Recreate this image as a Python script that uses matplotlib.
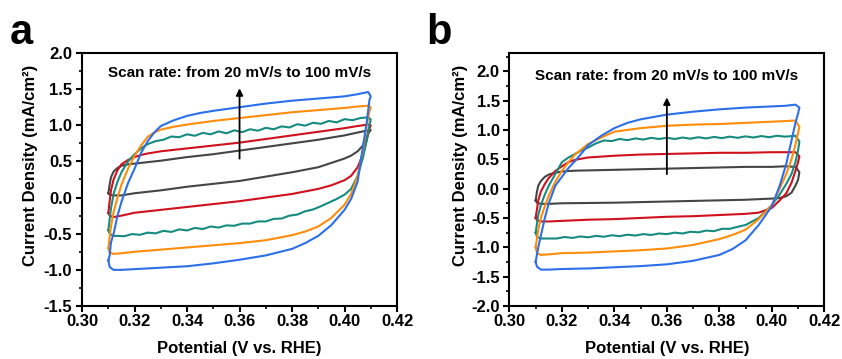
import numpy as np
import matplotlib
matplotlib.use('Agg')
import matplotlib.pyplot as plt
from matplotlib.ticker import MultipleLocator

plt.rcParams['font.family'] = ['Liberation Sans', 'DejaVu Sans']
plt.rcParams['font.weight'] = 'bold'

# potenciais (V vs. RHE): varredura de ida (ramo superior) e volta (ramo inferior)
up_v = [0.3100, 0.3105, 0.3110, 0.3120, 0.3135, 0.3150, 0.3175, 0.3200, 0.3225, 0.3250, 0.3275, 0.3300,
        0.3350, 0.3400, 0.3450, 0.3500, 0.3600, 0.3700, 0.3800, 0.3900, 0.4000, 0.4050, 0.4090]
a_dn_v = [0.4100, 0.4095, 0.4085, 0.4070, 0.4050, 0.4025, 0.4000, 0.3950, 0.3900, 0.3850, 0.3800,
          0.3700, 0.3600, 0.3500, 0.3400, 0.3300, 0.3200, 0.3150, 0.3120, 0.3105, 0.3100]
b_dn_v = [0.4105, 0.4100, 0.4090, 0.4075, 0.4055, 0.4030, 0.4000, 0.3950, 0.3900, 0.3850, 0.3800,
          0.3700, 0.3600, 0.3500, 0.3400, 0.3300, 0.3200, 0.3150, 0.3120, 0.3105, 0.3100]

# painel a - densidade de corrente (mA/cm2), 20 / 40 / 80 / 100 mV/s
a20_up = [0.06, 0.18, 0.28, 0.36, 0.41, 0.44, 0.46, 0.47, 0.48, 0.49, 0.50, 0.51, 0.535, 0.56, 0.58, 0.60, 0.65, 0.70, 0.75, 0.80, 0.86, 0.90, 0.93]
a20_dn = [0.93, 0.92, 0.85, 0.72, 0.64, 0.58, 0.54, 0.48, 0.42, 0.385, 0.35, 0.29, 0.23, 0.19, 0.15, 0.10, 0.06, 0.03, 0.03, 0.04, 0.06]
a40_up = [-0.21, -0.05, 0.10, 0.25, 0.38, 0.46, 0.52, 0.56, 0.59, 0.61, 0.625, 0.64, 0.66, 0.68, 0.70, 0.72, 0.76, 0.81, 0.86, 0.91, 0.96, 0.99, 1.01]
a40_dn = [1.00, 0.95, 0.80, 0.60, 0.42, 0.30, 0.24, 0.17, 0.12, 0.085, 0.05, 0.00, -0.05, -0.09, -0.13, -0.17, -0.21, -0.25, -0.27, -0.25, -0.21]
a80_up = [-0.70, -0.55, -0.40, -0.20, 0.00, 0.18, 0.40, 0.58, 0.72, 0.84, 0.90, 0.94, 0.98, 1.01, 1.035, 1.06, 1.10, 1.14, 1.18, 1.21, 1.24, 1.26, 1.27]
a80_dn = [1.25, 1.20, 1.00, 0.65, 0.30, 0.05, -0.10, -0.28, -0.40, -0.47, -0.52, -0.59, -0.63, -0.66, -0.69, -0.72, -0.75, -0.77, -0.78, -0.76, -0.70]
a100_up = [-0.87, -0.80, -0.62, -0.50, -0.25, -0.06, 0.20, 0.40, 0.62, 0.78, 0.90, 0.99, 1.07, 1.13, 1.17, 1.20, 1.25, 1.30, 1.34, 1.37, 1.40, 1.43, 1.46]
a100_dn = [1.40, 1.35, 1.05, 0.70, 0.22, -0.02, -0.17, -0.38, -0.53, -0.63, -0.71, -0.80, -0.86, -0.91, -0.95, -0.97, -0.99, -1.00, -1.00, -0.96, -0.87]

# painel a - 60 mV/s (curva ondulada, amostragem mais fina)
a60_v = [0.3100, 0.3105, 0.3110, 0.3120, 0.3135, 0.3150, 0.3175, 0.3200, 0.3225, 0.3250,
         0.328, 0.331, 0.334, 0.337, 0.340, 0.343, 0.346, 0.349, 0.352, 0.355, 0.358, 0.361, 0.364, 0.367,
         0.370, 0.373, 0.376, 0.379, 0.382, 0.385, 0.388, 0.391, 0.394, 0.397, 0.400, 0.403, 0.406, 0.409,
         0.4100, 0.4095, 0.4085, 0.4070, 0.4050, 0.4025, 0.4000,
         0.397, 0.394, 0.391, 0.388, 0.385, 0.382, 0.379, 0.376, 0.373, 0.370, 0.367, 0.364, 0.361, 0.358,
         0.355, 0.352, 0.349, 0.346, 0.343, 0.340, 0.337, 0.334, 0.331, 0.328, 0.325, 0.322, 0.319, 0.316,
         0.3135, 0.3120, 0.3105, 0.3100]
a60_j = [-0.45, -0.30, -0.15, 0.05, 0.22, 0.35, 0.50, 0.60, 0.68, 0.74,
         0.78, 0.80, 0.845, 0.835, 0.875, 0.855, 0.895, 0.875, 0.915, 0.89, 0.93, 0.905, 0.945, 0.925,
         0.965, 0.945, 0.985, 0.97, 1.015, 0.995, 1.035, 1.02, 1.06, 1.04, 1.085, 1.07, 1.10, 1.11,
         1.08, 1.00, 0.80, 0.55, 0.30, 0.12, 0.04,
         -0.02, -0.07, -0.12, -0.165, -0.19, -0.235, -0.25, -0.29, -0.295, -0.33, -0.33, -0.36, -0.36, -0.39,
         -0.385, -0.415, -0.40, -0.435, -0.42, -0.455, -0.44, -0.475, -0.46, -0.495, -0.485, -0.515, -0.505, -0.535,
         -0.53, -0.53, -0.50, -0.45]

# painel b
b20_up = [-0.20, -0.05, 0.05, 0.13, 0.20, 0.24, 0.27, 0.29, 0.30, 0.305, 0.308, 0.31, 0.315, 0.32, 0.325, 0.33, 0.34, 0.35, 0.36, 0.37, 0.37, 0.38, 0.37]
b20_dn = [0.28, 0.15, 0.05, -0.07, -0.13, -0.16, -0.17, -0.18, -0.19, -0.195, -0.20, -0.21, -0.22, -0.23, -0.24, -0.245, -0.25, -0.26, -0.26, -0.24, -0.20]
b40_up = [-0.50, -0.35, -0.20, -0.05, 0.08, 0.18, 0.30, 0.38, 0.45, 0.49, 0.51, 0.53, 0.545, 0.56, 0.57, 0.58, 0.59, 0.60, 0.61, 0.61, 0.62, 0.62, 0.62]
b40_dn = [0.55, 0.45, 0.30, 0.10, -0.08, -0.20, -0.33, -0.41, -0.43, -0.44, -0.45, -0.47, -0.48, -0.50, -0.52, -0.53, -0.55, -0.56, -0.56, -0.54, -0.50]
b80_up = [-1.00, -0.85, -0.70, -0.50, -0.30, -0.12, 0.12, 0.30, 0.45, 0.58, 0.67, 0.76, 0.87, 0.97, 1.00, 1.03, 1.07, 1.09, 1.10, 1.12, 1.14, 1.15, 1.16]
b80_dn = [1.05, 0.95, 0.75, 0.50, 0.25, 0.00, -0.28, -0.52, -0.70, -0.79, -0.86, -0.96, -1.02, -1.05, -1.07, -1.09, -1.10, -1.12, -1.13, -1.10, -1.00]
b100_up = [-1.25, -1.12, -1.00, -0.80, -0.50, -0.25, 0.05, 0.20, 0.35, 0.47, 0.60, 0.74, 0.90, 1.03, 1.12, 1.18, 1.26, 1.31, 1.35, 1.38, 1.40, 1.41, 1.43]
b100_dn = [1.38, 1.28, 1.12, 0.82, 0.42, 0.05, -0.30, -0.62, -0.88, -1.03, -1.13, -1.23, -1.29, -1.32, -1.34, -1.36, -1.37, -1.38, -1.38, -1.33, -1.25]

b60_v = [0.3100, 0.3105, 0.3110, 0.3120, 0.3135, 0.3150, 0.3175, 0.3200, 0.3225, 0.3250, 0.3275, 0.3300, 0.3330,
         0.336, 0.339, 0.342, 0.345, 0.348, 0.351, 0.354, 0.357, 0.360, 0.363, 0.366, 0.369,
         0.372, 0.375, 0.378, 0.381, 0.384, 0.387, 0.390, 0.393, 0.396, 0.399, 0.402, 0.405, 0.409,
         0.4105, 0.4100, 0.4090, 0.4075, 0.4055, 0.4030, 0.4000, 0.3950, 0.3900,
         0.387, 0.384, 0.381, 0.378, 0.375, 0.372, 0.369, 0.366, 0.363, 0.360, 0.357, 0.354,
         0.351, 0.348, 0.345, 0.342, 0.339, 0.336, 0.333, 0.330, 0.327, 0.324, 0.321, 0.318,
         0.3150, 0.3120, 0.3105, 0.3100]
b60_j = [-0.75, -0.60, -0.45, -0.28, -0.10, 0.05, 0.25, 0.45, 0.53, 0.59, 0.65, 0.70, 0.77,
         0.82, 0.81, 0.845, 0.825, 0.855, 0.835, 0.865, 0.845, 0.865, 0.845, 0.87, 0.85,
         0.875, 0.855, 0.88, 0.86, 0.885, 0.865, 0.89, 0.87, 0.895, 0.875, 0.90, 0.885, 0.90,
         0.80, 0.65, 0.45, 0.25, 0.08, -0.10, -0.28, -0.50, -0.62,
         -0.65, -0.685, -0.685, -0.725, -0.715, -0.745, -0.735, -0.765, -0.75, -0.775, -0.765, -0.79,
         -0.775, -0.80, -0.785, -0.81, -0.795, -0.82, -0.805, -0.83, -0.815, -0.84, -0.825, -0.85,
         -0.85, -0.85, -0.82, -0.75]

cores = ['#454545', '#d0101c', '#168b80', '#ff8c0a', '#2c6fea']

fig = plt.figure(figsize=(8.42, 3.59), dpi=100)
ax_a = fig.add_axes([0.0975, 0.1476, 0.374, 0.7048])
ax_b = fig.add_axes([0.6050, 0.1476, 0.374, 0.7048])


def formata(ax, ylim, seta, texto_y, ylab_x):
    ax.set_xlim(0.30, 0.42)
    ax.set_ylim(*ylim)
    ax.xaxis.set_major_locator(MultipleLocator(0.02))
    ax.xaxis.set_minor_locator(MultipleLocator(0.01))
    ax.yaxis.set_major_locator(MultipleLocator(0.5))
    ax.yaxis.set_minor_locator(MultipleLocator(0.25))
    ax.xaxis.set_major_formatter(plt.FormatStrFormatter('%.2f'))
    ax.yaxis.set_major_formatter(plt.FormatStrFormatter('%.1f'))
    for s in ax.spines.values():
        s.set_linewidth(1.5)
    ax.tick_params(which='major', direction='out', length=4, width=1.5, labelsize=12, pad=2)
    ax.tick_params(axis='y', which='major', pad=3)
    ax.tick_params(which='minor', direction='out', length=2.5, width=1.2)
    ax.set_xlabel('Potential (V vs. RHE)', fontsize=12, fontweight='bold')
    ax.set_ylabel('Current Density (mA/cm²)', fontsize=12, fontweight='bold')
    ax.xaxis.set_label_coords(0.5, -0.14)
    ax.yaxis.set_label_coords(ylab_x, 0.555)
    ax.text(0.36, texto_y, 'Scan rate: from 20 mV/s to 100 mV/s', ha='center', va='center',
            fontsize=11, fontweight='bold')
    ax.annotate('', xy=(0.36, seta[1]), xytext=(0.36, seta[0]),
                arrowprops=dict(arrowstyle='-|>', color='black', lw=1.3, mutation_scale=10))


# painel a
for v, j, c in [(up_v + a_dn_v, a20_up + a20_dn, cores[0]),
                (up_v + a_dn_v, a40_up + a40_dn, cores[1]),
                (a60_v, a60_j, cores[2]),
                (up_v + a_dn_v, a80_up + a80_dn, cores[3]),
                (up_v + a_dn_v, a100_up + a100_dn, cores[4])]:
    ax_a.plot(v, j, color=c, lw=1.5)
formata(ax_a, (-1.5, 2.0), (0.5, 1.55), 1.72, -0.14)

# painel b
for v, j, c in [(up_v + b_dn_v, b20_up + b20_dn, cores[0]),
                (up_v + b_dn_v, b40_up + b40_dn, cores[1]),
                (b60_v, b60_j, cores[2]),
                (up_v + b_dn_v, b80_up + b80_dn, cores[3]),
                (up_v + b_dn_v, b100_up + b100_dn, cores[4])]:
    ax_b.plot(v, j, color=c, lw=1.5)
formata(ax_b, (-2.0, 2.31), (0.2, 1.6), 1.92, -0.133)

fig.text(0.012, 1 - 44 / 359, 'a', fontsize=30, fontweight='bold', va='baseline')
fig.text(0.506, 1 - 44 / 359, 'b', fontsize=30, fontweight='bold', va='baseline')

fig.savefig('out.png', dpi=100)
